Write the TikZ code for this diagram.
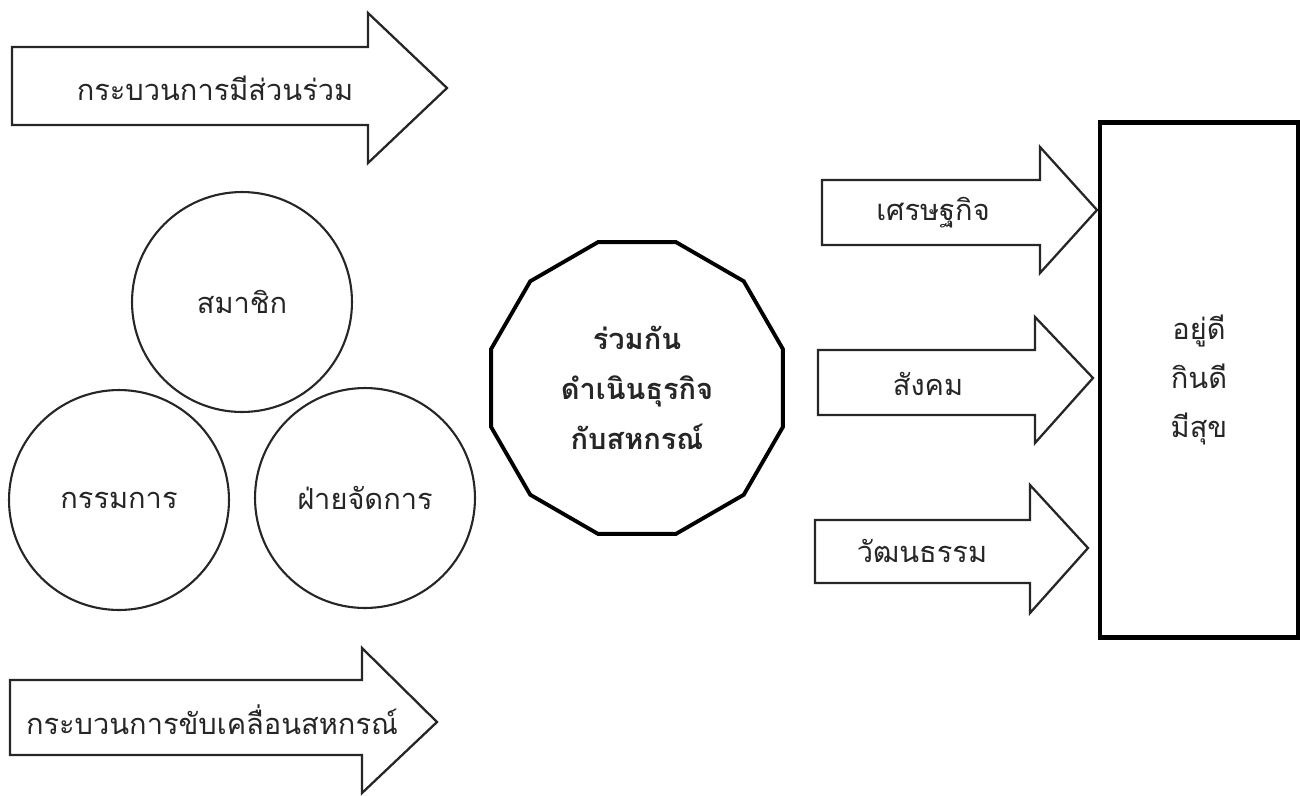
\documentclass[tikz,border=0pt]{standalone}
\usepackage{fontspec}
\newfontfamily\thaifont[Script=Thai]{Loma}
\usetikzlibrary{shapes.geometric}

\begin{document}
\begin{tikzpicture}[x=0.02cm, y=-0.02cm, every node/.style={font=\thaifont\fontsize{16.5}{29}\selectfont, text=black!85}, outl/.style={draw=black!85, line width=1.3pt, line join=miter}, grp/.style={circle, draw=black!85, line width=1.2pt, minimum size=4.4cm, inner sep=0pt}]
	\useasboundingbox (0,0) rectangle (1301,795);
	\draw[outl] (12,47) -- (368,47) -- (368,13) -- (447,88) -- (368,163) -- (368,125) -- (12,125) -- cycle;
	\node (join) at (215,88) {กระบวนการมีส่วนร่วม};
	\draw[outl] (10,680) -- (362,680) -- (362,648) -- (437,722) -- (362,793) -- (362,755) -- (10,755) -- cycle;
	\node (drive) at (212,720) {กระบวนการขับเคลื่อนสหกรณ์};
	\node[grp] (member) at (242,302) {สมาชิก};
	\node[grp] (board) at (119,500) {กรรมการ};
	\node[grp] (mgmt) at (365,498) {ฝ่ายจัดการ};
	\node[regular polygon, regular polygon sides=12, draw=black, line width=2.2pt, minimum size=6.04cm, inner sep=0pt, align=center, font=\thaifont\bfseries\fontsize{16.5}{28.5}\selectfont] (coop) at (637,388) {ร่วมกัน\\ดำเนินธุรกิจ\\กับสหกรณ์};
	\node[draw=black, line width=2.6pt, minimum width=3.96cm, minimum height=10.3cm, align=center, font=\thaifont\fontsize{16.5}{28}\selectfont] (goal) at (1199,380) {อยู่ดี\\กินดี\\มีสุข};
	\draw[outl] (822,180) -- (1040,180) -- (1040,147) -- (1097,210) -- (1040,273) -- (1040,245) -- (822,245) -- cycle;
	\node (econ) at (933,213) {เศรษฐกิจ};
	\draw[outl] (818,350) -- (1035,350) -- (1035,317) -- (1093,378) -- (1035,443) -- (1035,415) -- (818,415) -- cycle;
	\node (soc) at (928,384) {สังคม};
	\draw[outl] (815,520) -- (1030,520) -- (1030,485) -- (1088,548) -- (1030,613) -- (1030,583) -- (815,583) -- cycle;
	\node (cult) at (922,551) {วัฒนธรรม};
\end{tikzpicture}
\end{document}
